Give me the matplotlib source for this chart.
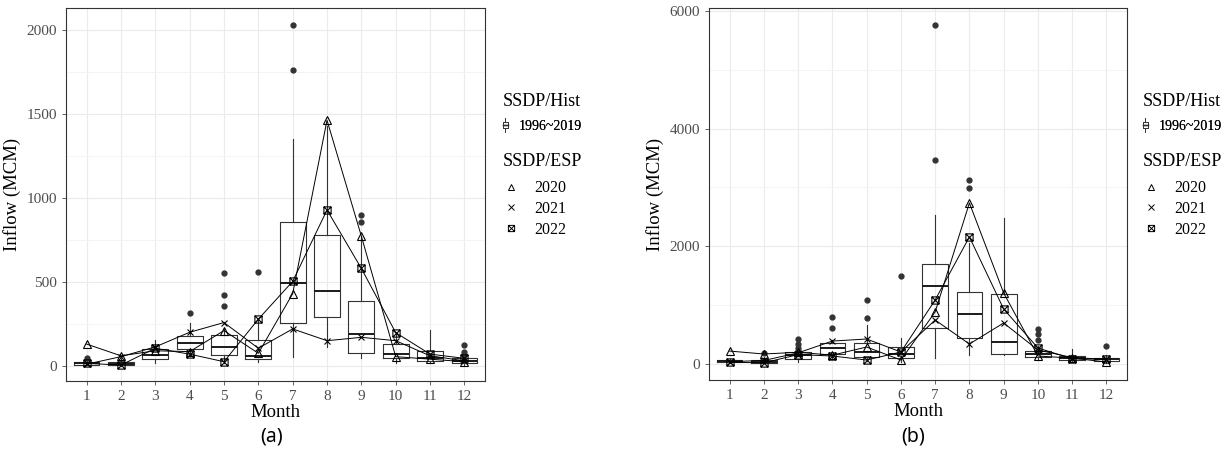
import matplotlib.pyplot as plt
from matplotlib.lines import Line2D
from matplotlib.patches import Rectangle
from matplotlib.path import Path
from matplotlib.legend_handler import HandlerBase
from matplotlib.ticker import MultipleLocator

plt.rcParams['font.family'] = ['Liberation Serif', 'DejaVu Serif']

months = list(range(1, 13))
month_labels = [str(m) for m in months]

# (a) historical inflow 1996~2019, box statistics per month
a_q1 = [8, 5, 40, 100, 65, 40, 256, 292, 77, 45, 30, 18]
a_med = [15, 12, 65, 137, 113, 60, 495, 447, 190, 70, 48, 30]
a_q3 = [22, 25, 100, 178, 185, 155, 857, 780, 387, 130, 90, 45]
a_lo = [3, 2, 20, 60, 20, 25, 50, 115, 45, 20, 15, 5]
a_hi = [30, 40, 155, 255, 225, 280, 1350, 1430, 770, 200, 215, 70]
a_fliers = [[45], [], [], [315], [357, 423, 553], [560], [1762, 2030], [],
            [857, 900], [], [], [65, 85, 125]]

# (a) ESP forecasts
a_2020 = [130, 60, 90, 85, 210, 75, 430, 1462, 772, 55, 40, 25]
a_2021 = [10, 55, 113, 200, 258, 105, 220, 150, 170, 150, 60, 30]
a_2022 = [15, 5, 105, 70, 25, 278, 503, 928, 580, 198, 70, 45]

# (b) historical inflow 1996~2019
b_q1 = [35, 25, 85, 170, 120, 100, 612, 442, 170, 119, 68, 51]
b_med = [45, 40, 150, 272, 204, 170, 1326, 850, 374, 170, 100, 80]
b_q3 = [60, 70, 205, 357, 357, 290, 1700, 1224, 1190, 221, 136, 102]
b_lo = [20, 10, 40, 90, 50, 40, 100, 153, 150, 60, 40, 20]
b_hi = [80, 120, 250, 408, 663, 440, 2533, 2057, 2482, 300, 255, 150]
b_fliers = [[], [180], [280, 340, 425], [612, 800], [780, 1088], [1496],
            [3468, 5763], [2992, 3128], [], [408, 510, 595], [], [306]]

# (b) ESP forecasts
b_2020 = [220, 170, 200, 150, 289, 68, 884, 2737, 1207, 136, 100, 34]
b_2021 = [40, 60, 190, 390, 425, 204, 748, 340, 697, 238, 110, 80]
b_2022 = [30, 20, 160, 136, 68, 204, 1088, 2159, 935, 272, 90, 80]

esp_years = ['2020', '2021', '2022']

GREY = '#333333'
TICK = '#4D4D4D'

# open square with a cross inside
sq_cross = Path([(-1, -1), (1, -1), (1, 1), (-1, 1), (-1, -1),
                 (-1, -1), (1, 1), (-1, 1), (1, -1)],
                [Path.MOVETO, Path.LINETO, Path.LINETO, Path.LINETO, Path.CLOSEPOLY,
                 Path.MOVETO, Path.LINETO, Path.MOVETO, Path.LINETO])
esp_markers = ['^', 'x', sq_cross]


class BoxKey(HandlerBase):
    def create_artists(self, legend, orig_handle, xdescent, ydescent,
                       width, height, fontsize, trans):
        cx = width / 2 - xdescent
        bw = width * 0.45
        y0 = -ydescent
        kw = dict(color=GREY, lw=0.6, transform=trans)
        return [
            Rectangle((cx - bw / 2, y0 + height * 0.2), bw, height * 0.6,
                      fill=False, ec=GREY, lw=0.6, transform=trans),
            Line2D([cx, cx], [y0 - height * 0.25, y0 + height * 0.2], **kw),
            Line2D([cx, cx], [y0 + height * 0.8, y0 + height * 1.25], **kw),
            Line2D([cx - bw / 2, cx + bw / 2], [y0 + height * 0.5] * 2,
                   color=GREY, lw=1.0, transform=trans),
        ]


def draw_panel(ax, q1, med, q3, lo, hi, fliers, esp, ylim, major, minor):
    stats = [dict(q1=a, med=b, q3=c, whislo=d, whishi=e, fliers=f)
             for a, b, c, d, e, f in zip(q1, med, q3, lo, hi, fliers)]
    ax.bxp(stats, positions=months, widths=0.75, showcaps=False,
           boxprops=dict(color=GREY, lw=0.8),
           whiskerprops=dict(color=GREY, lw=0.8),
           medianprops=dict(color='#1a1a1a', lw=1.4),
           flierprops=dict(marker='o', markerfacecolor=GREY,
                           markeredgecolor=GREY, markersize=3.5),
           zorder=2)
    for vals, mk in zip(esp, esp_markers):
        ax.plot(months, vals, color='black', lw=0.7, zorder=3)
        ax.plot(months, vals, ls='none', marker=mk, mfc='none', mec='black',
                mew=0.8, ms=5.2 if mk != 'x' else 5, zorder=4)

    ax.set_xlim(0.4, 12.6)
    ax.set_ylim(*ylim)
    ax.set_xticks(months)
    ax.set_xticklabels(month_labels)
    ax.yaxis.set_major_locator(MultipleLocator(major))
    ax.yaxis.set_minor_locator(MultipleLocator(minor))
    ax.grid(which='major', color='#EBEBEB', lw=0.8)
    ax.grid(which='minor', axis='y', color='#F2F2F2', lw=0.6)
    ax.set_axisbelow(True)
    ax.tick_params(which='major', labelsize=11, colors=TICK, length=3,
                   width=0.6, labelcolor=TICK)
    ax.tick_params(which='minor', length=0)
    for s in ax.spines.values():
        s.set_color(GREY)
        s.set_linewidth(0.8)
    ax.set_xlabel('Month', fontsize=13.5, labelpad=1)
    ax.set_ylabel('Inflow (MCM)', fontsize=13.5, labelpad=4)


def add_legends(fig, x):
    fig.text(x, 0.776, 'SSDP/Hist', fontsize=13, ha='left', va='center')
    fig.text(x, 0.644, 'SSDP/ESP', fontsize=13, ha='left', va='center')
    hist = fig.legend([Rectangle((0, 0), 1, 1)], ['1996~2019'],
                      handler_map={Rectangle: BoxKey()},
                      fontsize=10, loc='upper left',
                      bbox_to_anchor=(x - 0.002, 0.737),
                      frameon=False, handlelength=0.7, handletextpad=0.6,
                      borderpad=0, borderaxespad=0)
    fig.add_artist(hist)
    handles = [Line2D([], [], ls='none', marker=mk, mfc='none', mec='black',
                      mew=0.7, ms=4.5 if mk != 'x' else 4)
               for mk in esp_markers]
    fig.legend(handles, esp_years, fontsize=11.5, loc='upper left',
               bbox_to_anchor=(x - 0.002, 0.604),
               frameon=False, handlelength=1.3, handletextpad=0.8,
               labelspacing=0.3, borderpad=0, borderaxespad=0)


fig = plt.figure(figsize=(12.31, 4.55), dpi=100)
ax_a = fig.add_axes([0.0536, 0.1626, 0.3404, 0.8198])
ax_b = fig.add_axes([0.5760, 0.1648, 0.3395, 0.8176])

draw_panel(ax_a, a_q1, a_med, a_q3, a_lo, a_hi, a_fliers,
           [a_2020, a_2021, a_2022], (-90, 2130), 500, 250)
draw_panel(ax_b, b_q1, b_med, b_q3, b_lo, b_hi, b_fliers,
           [b_2020, b_2021, b_2022], (-272, 6050), 2000, 1000)

add_legends(fig, 0.4086)
add_legends(fig, 0.9285)

fig.text(0.221, 0.04, '(a)', family='Noto Sans', fontsize=14, ha='center', va='center')
fig.text(0.742, 0.04, '(b)', family='Noto Sans', fontsize=14, ha='center', va='center')

fig.savefig('out.png', dpi=100)
